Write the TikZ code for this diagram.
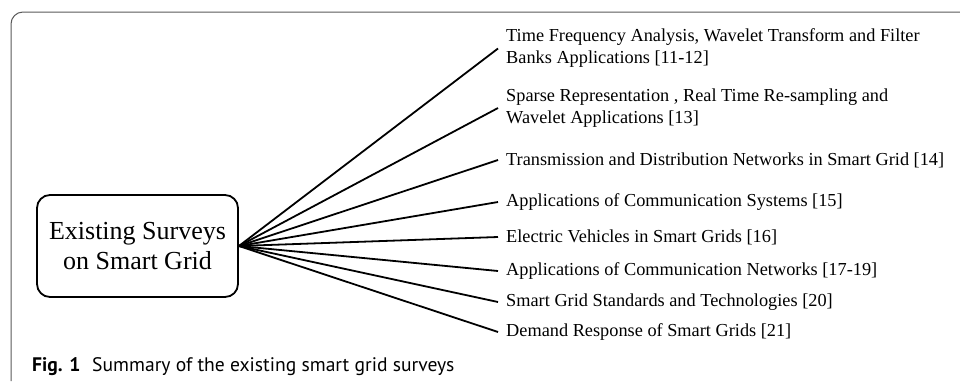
\documentclass[tikz,border=0pt]{standalone}
\usepackage{fontspec}
\setmainfont{Liberation Serif}
\newfontfamily\capfont{PT Sans}
\begin{document}
\begin{tikzpicture}[x=1pt,y=-1pt,
  hub/.style={draw,line width=1.8pt,rounded corners=13pt,minimum width=201pt,minimum height=102pt,align=center,font=\fontsize{26}{30}\selectfont,inner sep=0pt},
  leaf/.style={anchor=west,align=left,inner xsep=8pt,inner ysep=0pt,font=\fontsize{18.3}{22}\selectfont},
  spoke/.style={line width=1.8pt}]
\useasboundingbox (0,0) rectangle (960,381);
\draw[line width=1pt,black!65,rounded corners=12pt] (11,381) -- (11,12) -- (961,12);
\node[hub] (c) at (137.5,246) {Existing Surveys\\on Smart Grid};
\node[leaf] (l1) at (498,48.5) {Time Frequency Analysis, Wavelet Transform and Filter\\Banks Applications [11-12]};
\node[leaf] (l2) at (498,108) {Sparse Representation , Real Time Re-sampling and\\Wavelet Applications [13]};
\node[leaf] (l3) at (498,160) {Transmission and Distribution Networks in Smart Grid [14]};
\node[leaf] (l4) at (498,202) {Applications of Communication Systems [15]};
\node[leaf] (l5) at (498,237) {Electric Vehicles in Smart Grids [16]};
\node[leaf] (l6) at (498,271) {Applications of Communication Networks [17-19]};
\node[leaf] (l7) at (498,302) {Smart Grid Standards and Technologies [20]};
\node[leaf] (l8) at (498,332) {Demand Response of Smart Grids [21]};
\foreach \i in {1,...,8} \draw[spoke] (c.east) -- (l\i.west);
\node[anchor=west,inner sep=0pt,font=\capfont\fontsize{19.6}{23}\selectfont] (cap) at (32,367) {\textbf{Fig. 1}\hspace{0.6em}Summary of the existing smart grid surveys};
\end{tikzpicture}
\end{document}
